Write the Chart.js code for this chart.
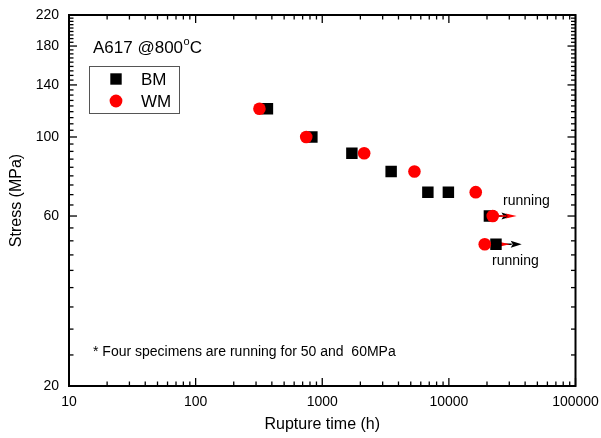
<!DOCTYPE html>
<html>
<head>
<meta charset="utf-8">
<script src="https://cdn.jsdelivr.net/npm/chart.js@4.4.1/dist/chart.umd.min.js"></script>
<style>
    html, body { margin: 0; padding: 0; background: #fff; }
</style>
</head>
<body>
<canvas id="chart" width="601" height="438"></canvas>
<script>
// Datos (tiempo de rotura en h, tensión en MPa)
const bmTime = [369, 828, 1714, 3500, 6825, 9910, 20900, 23550];
const bmStress = [120, 100, 90, 80, 70, 70, 60, 50];
const wmTime = [319, 747, 2143, 5346, 16300, 22200, 19200];
const wmStress = [120, 100, 90, 80, 70, 60, 50];

// Ensayos en curso: flecha desde el punto hasta el tiempo indicado
const runSeries = ['BM', 'WM', 'WM', 'BM'];
const runStress = [60, 60, 50, 50];
const runFrom = [20900, 22200, 19200, 23550];
const runTo = [31800, 34300, 30300, 37600];

// Etiquetas de los ejes
const xTicks = [10, 100, 1000, 10000, 100000];
const yTicks = [20, 60, 100, 140, 180, 220];

const FONT = 'Arial, "Liberation Sans", sans-serif';
const colors = { BM: '#000000', WM: '#ff0000' };

// Marcas menores (x: 2..9 por década, y: 8 entre cada etiqueta)
const xMinor = [];
xTicks.slice(0, -1).forEach(d => { for (let m = 2; m <= 9; m++) xMinor.push(d * m); });
const yMinor = [];
yTicks.slice(0, -1).forEach((v, i) => {
    const step = (yTicks[i + 1] - v) / 9;
    for (let k = 1; k <= 8; k++) yMinor.push(v + k * step);
});

function line(ctx, x1, y1, x2, y2) {
    ctx.beginPath();
    ctx.moveTo(x1, y1);
    ctx.lineTo(x2, y2);
    ctx.stroke();
}

function drawTicks(ctx, scale, values, len, area) {
    values.forEach(v => {
        const p = scale.getPixelForValue(v);
        if (scale.isHorizontal()) {
            line(ctx, p, area.bottom, p, area.bottom - len);
            line(ctx, p, area.top, p, area.top + len);
        } else {
            line(ctx, area.left, p, area.left + len, p);
            line(ctx, area.right, p, area.right - len, p);
        }
    });
}

function drawArrow(ctx, x1, x2, y, color, headLen, headHalf) {
    ctx.save();
    ctx.strokeStyle = color;
    ctx.fillStyle = color;
    ctx.lineWidth = 1.5;
    line(ctx, x1, y, x2 - headLen + 1, y);
    ctx.beginPath();
    ctx.moveTo(x2, y);
    ctx.lineTo(x2 - headLen, y - headHalf);
    ctx.lineTo(x2 - headLen + 2, y);
    ctx.lineTo(x2 - headLen, y + headHalf);
    ctx.closePath();
    ctx.fill();
    ctx.restore();
}

const decorations = {
    id: 'decorations',
    beforeDatasetsDraw(chart) {
        const ctx = chart.ctx;
        const xs = chart.scales.x, ys = chart.scales.y;
        // primero las negras, luego las rojas
        ['BM', 'WM'].forEach(series => {
            runSeries.forEach((s, i) => {
                if (s !== series) return;
                const y = ys.getPixelForValue(runStress[i]);
                const big = s === 'BM';
                drawArrow(ctx, xs.getPixelForValue(runFrom[i]), xs.getPixelForValue(runTo[i]), y,
                    colors[s], 11, big ? 3.5 : 2.5);
            });
        });
    },
    afterDraw(chart) {
        const ctx = chart.ctx;
        const area = chart.chartArea;
        ctx.save();

        // Marco
        ctx.strokeStyle = '#000';
        ctx.lineWidth = 2;
        ctx.strokeRect(area.left, area.top, area.right - area.left, area.bottom - area.top);

        // Marcas hacia dentro
        ctx.lineWidth = 1.3;
        drawTicks(ctx, chart.scales.x, xTicks, 8, area);
        drawTicks(ctx, chart.scales.x, xMinor, 4.5, area);
        drawTicks(ctx, chart.scales.y, yTicks, 8, area);
        drawTicks(ctx, chart.scales.y, yMinor, 4.5, area);

        // Título interno
        ctx.fillStyle = '#000';
        ctx.textBaseline = 'alphabetic';
        ctx.textAlign = 'left';
        ctx.font = '17px ' + FONT;
        const t1 = 'A617 @800';
        ctx.fillText(t1, 93, 53);
        let tx = 93 + ctx.measureText(t1).width;
        ctx.font = '11px ' + FONT;
        ctx.fillText('o', tx + 0.5, 45);
        tx += ctx.measureText('o').width + 0.5;
        ctx.font = '17px ' + FONT;
        ctx.fillText('C', tx, 53);

        // Leyenda
        ctx.strokeStyle = '#555';
        ctx.lineWidth = 1;
        ctx.strokeRect(89.5, 66.5, 90, 47);
        chart.data.datasets.slice().sort((a, b) => a.legendIndex - b.legendIndex).forEach((ds, i) => {
            const cy = 79 + i * 22;
            ctx.fillStyle = ds.backgroundColor;
            ctx.beginPath();
            if (ds.pointStyle === 'rect') {
                ctx.rect(116 - 5.7, cy - 5.7, 11.4, 11.4);
            } else {
                ctx.arc(116, cy, 6.4, 0, Math.PI * 2);
            }
            ctx.fill();
            ctx.fillStyle = '#000';
            ctx.font = '17px ' + FONT;
            ctx.textBaseline = 'middle';
            ctx.fillText(ds.label, 141, cy + 1);
        });

        // Notas
        ctx.textBaseline = 'alphabetic';
        ctx.font = '14px ' + FONT;
        ctx.fillText('running', 503, 205);
        ctx.fillText('running', 492, 265);
        ctx.fillText('* Four specimens are running for 50 and  60MPa', 93, 356);

        ctx.restore();
    }
};

new Chart(document.getElementById('chart'), {
    type: 'scatter',
    data: {
        datasets: [
            {
                label: 'BM',
                legendIndex: 0,
                data: bmTime.map((t, i) => ({ x: t, y: bmStress[i] })),
                pointStyle: 'rect',
                pointRadius: 8.1,
                pointHoverRadius: 8.1,
                backgroundColor: colors.BM,
                borderColor: colors.BM,
                borderWidth: 0,
                order: 2,
            },
            {
                label: 'WM',
                legendIndex: 1,
                data: wmTime.map((t, i) => ({ x: t, y: wmStress[i] })),
                pointStyle: 'circle',
                pointRadius: 6.3,
                pointHoverRadius: 6.3,
                backgroundColor: colors.WM,
                borderColor: colors.WM,
                borderWidth: 0,
                order: 1,
            },
        ]
    },
    options: {
        responsive: false,
        animation: false,
        events: [],
        layout: { padding: { top: 15, right: 25.5, left: 0, bottom: 0 } },
        plugins: {
            legend: { display: false },
            tooltip: { enabled: false },
        },
        scales: {
            x: {
                type: 'logarithmic',
                min: 10,
                max: 100000,
                grid: { display: false, drawTicks: false },
                border: { display: false },
                afterBuildTicks: scale => { scale.ticks = xTicks.map(v => ({ value: v })); },
                afterFit: scale => {
                    scale.height = 52;
                    scale.paddingLeft = 0;
                    scale.paddingRight = 0;
                },
                ticks: {
                    autoSkip: false,
                    maxRotation: 0,
                    padding: 8,
                    color: '#000',
                    font: { family: FONT, size: 14 },
                    callback: v => String(v),
                },
                title: {
                    display: true,
                    text: 'Rupture time (h)',
                    color: '#000',
                    font: { family: FONT, size: 16 },
                    padding: { top: 0, bottom: 4 },
                },
            },
            y: {
                type: 'logarithmic',
                min: 20,
                max: 220,
                grid: { display: false, drawTicks: false },
                border: { display: false },
                afterBuildTicks: scale => { scale.ticks = yTicks.map(v => ({ value: v })); },
                afterFit: scale => {
                    scale.width = 69;
                    scale.paddingTop = 0;
                    scale.paddingBottom = 0;
                },
                ticks: {
                    autoSkip: false,
                    padding: 10,
                    color: '#000',
                    font: { family: FONT, size: 14 },
                    callback: v => String(v),
                },
                title: {
                    display: true,
                    text: 'Stress (MPa)',
                    color: '#000',
                    font: { family: FONT, size: 16 },
                    padding: { top: 7, bottom: 0 },
                },
            },
        },
    },
    plugins: [decorations],
});
</script>
</body>
</html>
